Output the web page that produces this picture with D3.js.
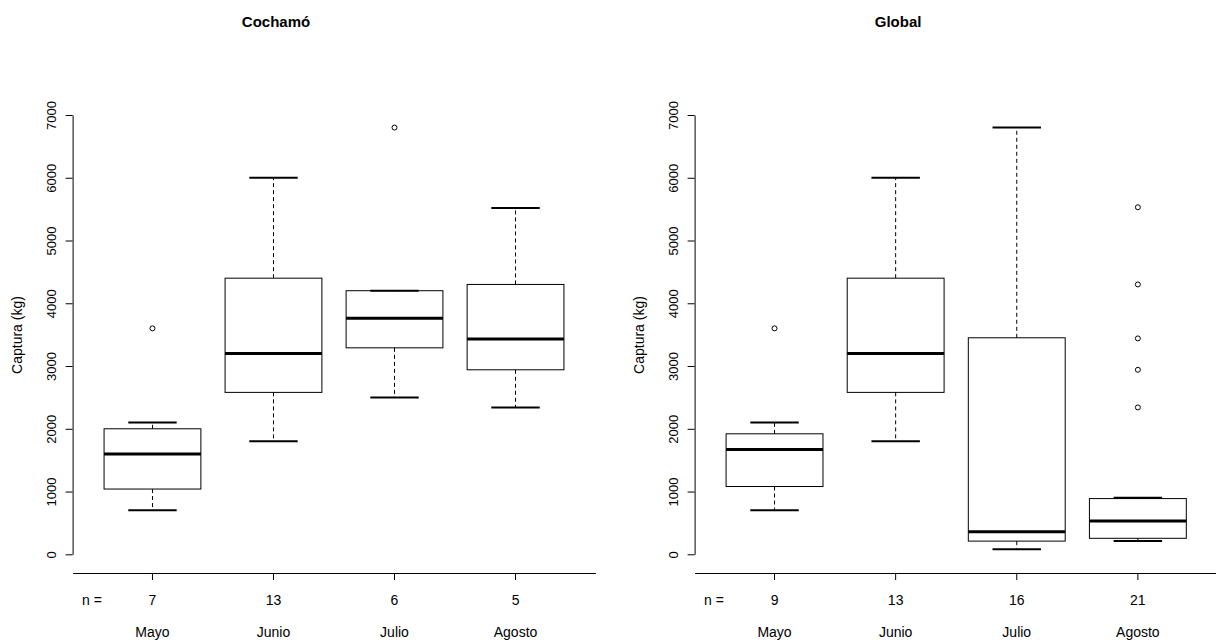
<!DOCTYPE html>
<html>
<head>
<meta charset="utf-8">
<script src="https://cdn.jsdelivr.net/npm/d3@7"></script>
<style>
  html, body { margin: 0; padding: 0; background: #fff; }
  svg { display: block; font-family: "Liberation Sans", Arial, sans-serif; }
</style>
</head>
<body>
<script>
// ---------------- data ----------------
const months = ["Mayo", "Junio", "Julio", "Agosto"];
const yTicks = [0, 1000, 2000, 3000, 4000, 5000, 6000, 7000];

const cochamoN    = [7, 13, 6, 5];
const cochamoLow  = [700, 1800, 2500, 2340];
const cochamoQ1   = [1040, 2580, 3290, 2940];
const cochamoMed  = [1600, 3200, 3760, 3430];
const cochamoQ3   = [2000, 4400, 4200, 4300];
const cochamoHigh = [2100, 6000, 4200, 5520];
const cochamoOut  = [[3600], [], [6800], []];

const globalN    = [9, 13, 16, 21];
const globalLow  = [700, 1800, 80, 210];
const globalQ1   = [1080, 2580, 210, 255];
const globalMed  = [1670, 3200, 360, 530];
const globalQ3   = [1920, 4400, 3450, 888];
const globalHigh = [2100, 6000, 6800, 900];
const globalOut  = [[3600], [], [], [2340, 2940, 3440, 4300, 5530]];

const yLabel = "Captura (kg)";

// ---------------- layout ----------------
const W = 1216, H = 643;
const panels = [
  { title: "Cochamó", n: cochamoN, low: cochamoLow, q1: cochamoQ1, med: cochamoMed, q3: cochamoQ3, high: cochamoHigh, out: cochamoOut, L: 72.6, R: 595.4 },
  { title: "Global",  n: globalN,  low: globalLow,  q1: globalQ1,  med: globalMed,  q3: globalQ3,  high: globalHigh,  out: globalOut,  L: 694.6, R: 1217.8 }
];
const yTop = 115, yZero = 554.3, plotBottom = 573, plotTop = 97;

const svg = d3.select("body").append("svg").attr("width", W).attr("height", H);

panels.forEach(p => {
  const g = svg.append("g");
  const x = d3.scaleBand().domain(months).range([p.L, p.R]).paddingInner(0.2).paddingOuter(0.26);
  const y = d3.scaleLinear().domain([0, 7000]).range([yZero, yTop]);
  const bw = x.bandwidth();
  const cx = m => x(m) + bw / 2;

  // Title
  g.append("text")
    .attr("x", p.L + 0.389 * (p.R - p.L))
    .attr("y", 26.5)
    .attr("text-anchor", "middle")
    .attr("font-size", 15)
    .attr("font-weight", "bold")
    .text(p.title);

  // Y axis
  const ya = g.append("g")
    .attr("transform", `translate(${p.L},0)`)
    .call(d3.axisLeft(y).tickValues(yTicks).tickSize(7).tickSizeOuter(0).tickFormat(d3.format("d")));
  ya.selectAll("path, line").attr("stroke", "#000");
  ya.selectAll("text")
    .attr("transform", "rotate(-90)")
    .attr("x", 0).attr("y", -17).attr("dy", 0)
    .attr("text-anchor", "middle")
    .attr("font-size", 13)
    .attr("font-family", "'Liberation Sans', Arial, sans-serif")
    .attr("fill", "#000");

  // Y label
  g.append("text")
    .attr("transform", `translate(${p.L - 50.6},${(plotTop + plotBottom) / 2}) rotate(-90)`)
    .attr("text-anchor", "middle")
    .attr("font-size", 14)
    .text(yLabel);

  // X axis
  const xa = g.append("g")
    .attr("transform", `translate(0,${plotBottom})`)
    .call(d3.axisBottom(x).tickSize(7).tickSizeOuter(0).tickFormat(""));
  xa.selectAll("path, line").attr("stroke", "#000");

  // n labels
  g.append("text")
    .attr("x", p.L + (p.R - p.L) * (0.16 / 4.32))
    .attr("y", 605)
    .attr("text-anchor", "middle")
    .attr("font-size", 14)
    .text("n =");
  g.selectAll(".nlab").data(months).join("text")
    .attr("x", d => cx(d))
    .attr("y", 605)
    .attr("text-anchor", "middle")
    .attr("font-size", 14)
    .text((d, i) => p.n[i]);
  g.selectAll(".mlab").data(months).join("text")
    .attr("x", d => cx(d))
    .attr("y", 637)
    .attr("text-anchor", "middle")
    .attr("font-size", 14)
    .text(d => d);

  // Boxes
  months.forEach((m, i) => {
    const c = cx(m);
    // whiskers
    g.append("line").attr("x1", c).attr("x2", c).attr("y1", y(p.q3[i])).attr("y2", y(p.high[i]))
      .attr("stroke", "#000").attr("stroke-width", 1).attr("stroke-dasharray", "4,3");
    g.append("line").attr("x1", c).attr("x2", c).attr("y1", y(p.q1[i])).attr("y2", y(p.low[i]))
      .attr("stroke", "#000").attr("stroke-width", 1).attr("stroke-dasharray", "4,3");
    // caps
    [p.high[i], p.low[i]].forEach(v => {
      g.append("line").attr("x1", c - bw / 4).attr("x2", c + bw / 4).attr("y1", y(v)).attr("y2", y(v))
        .attr("stroke", "#000").attr("stroke-width", 2);
    });
    // box
    g.append("rect").attr("x", x(m)).attr("width", bw)
      .attr("y", y(p.q3[i])).attr("height", y(p.q1[i]) - y(p.q3[i]))
      .attr("fill", "none").attr("stroke", "#000").attr("stroke-width", 1);
    // median
    g.append("line").attr("x1", x(m)).attr("x2", x(m) + bw).attr("y1", y(p.med[i])).attr("y2", y(p.med[i]))
      .attr("stroke", "#000").attr("stroke-width", 3);
    // outliers
    p.out[i].forEach(v => {
      g.append("circle").attr("cx", c).attr("cy", y(v)).attr("r", 2.5)
        .attr("fill", "none").attr("stroke", "#000").attr("stroke-width", 1);
    });
  });
});
</script>
</body>
</html>
